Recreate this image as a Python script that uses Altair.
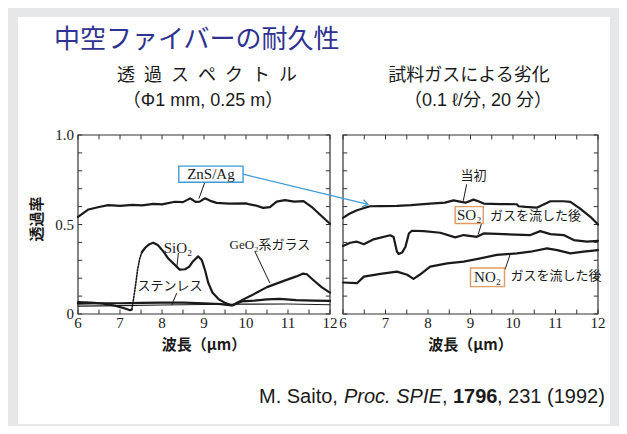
import altair as alt
import pandas as pd

# ---------------- data ----------------
# Left panel: transmission spectra (wavelength um, transmittance)
ZNS_X = [6.0, 6.25, 6.5, 6.72, 7.0, 7.3, 7.52, 7.8, 8.0, 8.31, 8.5, 8.67, 8.8, 8.9, 9.02, 9.15, 9.3, 9.6,
         10.0, 10.09, 10.25, 10.41, 10.57, 10.73, 10.93, 11.15, 11.37, 11.56, 11.76, 11.9, 12.0]
ZNS_Y = [0.543, 0.584, 0.598, 0.608, 0.604, 0.61, 0.607, 0.615, 0.612, 0.627, 0.625, 0.646, 0.626, 0.628,
         0.646, 0.632, 0.621, 0.617, 0.618, 0.612, 0.605, 0.593, 0.597, 0.628, 0.636, 0.628, 0.631, 0.599,
         0.556, 0.525, 0.504]

SIO2_A_X = [6.0, 6.3, 6.6, 6.9, 7.1, 7.24, 7.28]
SIO2_A_Y = [0.066, 0.064, 0.058, 0.045, 0.032, 0.021, 0.025]
SIO2_DOT_X = [7.28, 7.32, 7.37, 7.42, 7.47, 7.52]
SIO2_DOT_Y = [0.025, 0.08, 0.16, 0.25, 0.31, 0.345]
SIO2_B_X = [7.52, 7.6, 7.7, 7.79, 7.9, 8.03, 8.15, 8.27, 8.42, 8.55, 8.65, 8.74, 8.86, 8.95, 9.03, 9.1, 9.2,
            9.35, 9.5, 9.66, 9.75, 9.9, 10.2, 10.5, 10.8, 11.2, 11.6, 12.0]
SIO2_B_Y = [0.345, 0.37, 0.39, 0.398, 0.385, 0.35, 0.31, 0.283, 0.248, 0.25, 0.265, 0.295, 0.322, 0.30, 0.24,
            0.175, 0.12, 0.082, 0.062, 0.048, 0.056, 0.07, 0.075, 0.082, 0.085, 0.078, 0.075, 0.073]

GEO2_X = [6.0, 6.5, 7.0, 7.5, 8.0, 8.5, 9.0, 9.4, 9.6, 9.7, 9.8, 10.1, 10.5, 10.9, 11.2, 11.36, 11.45, 11.6,
          11.8, 11.96, 12.0]
GEO2_Y = [0.058, 0.06, 0.06, 0.062, 0.063, 0.063, 0.06, 0.055, 0.05, 0.05, 0.065, 0.1, 0.15, 0.185, 0.21,
          0.226, 0.222, 0.19, 0.15, 0.125, 0.12]

STEEL_X = [6.0, 7.0, 8.0, 9.0, 10.0, 11.0, 12.0]
STEEL_Y = [0.044, 0.047, 0.05, 0.053, 0.055, 0.056, 0.052]

# Right panel: degradation by sample gas
INIT_X = [6.0, 6.15, 6.33, 6.5, 6.64, 6.9, 7.27, 7.6, 8.05, 8.4, 8.6, 8.75, 8.88, 9.07, 9.2, 9.31, 9.7,
          10.09, 10.13, 10.3, 10.56, 10.72, 10.88, 11.19, 11.35, 11.58, 11.82, 12.0]
INIT_Y = [0.537, 0.56, 0.58, 0.592, 0.602, 0.603, 0.604, 0.608, 0.617, 0.622, 0.635, 0.628, 0.622, 0.639,
          0.628, 0.617, 0.614, 0.613, 0.602, 0.598, 0.594, 0.612, 0.63, 0.63, 0.626, 0.589, 0.543, 0.50]

SO2_X = [6.0, 6.17, 6.33, 6.49, 6.72, 7.11, 7.19, 7.27, 7.31, 7.39, 7.47, 7.55, 7.62, 7.9, 8.29, 8.64, 8.84,
         9.15, 9.31, 9.78, 10.41, 10.64, 10.88, 11.19, 11.43, 11.74, 12.0]
SO2_Y = [0.38, 0.398, 0.404, 0.39, 0.417, 0.44, 0.43, 0.348, 0.335, 0.343, 0.376, 0.45, 0.465, 0.463, 0.454,
         0.428, 0.441, 0.431, 0.45, 0.446, 0.441, 0.463, 0.446, 0.441, 0.413, 0.404, 0.409]

NO2_X = [6.0, 6.33, 6.49, 6.88, 7.27, 7.51, 7.66, 7.82, 8.05, 8.45, 8.84, 9.23, 9.62, 10.09, 10.41, 10.8,
         11.04, 11.35, 11.66, 12.0]
NO2_Y = [0.176, 0.172, 0.209, 0.224, 0.237, 0.219, 0.196, 0.222, 0.265, 0.283, 0.293, 0.311, 0.33, 0.339,
         0.348, 0.367, 0.357, 0.339, 0.348, 0.357]

# axes
X_DOMAIN = [6, 12]
Y_DOMAIN = [0, 1]
X_TICKS = [6, 6.5, 7, 7.5, 8, 8.5, 9, 9.5, 10, 10.5, 11, 11.5, 12]
X_LABELS = [6, 7, 8, 9, 10, 11, 12]
Y_TICKS = [0, 0.1, 0.2, 0.3, 0.4, 0.5, 0.6, 0.7, 0.8, 0.9, 1.0]
Y_LABEL_VALUES = [0, 0.5, 1.0]
Y_LABEL_TEXT = ["0", "0.5", "1.0"]

# texts
TITLE = "中空ファイバーの耐久性"
SUB_L1 = "透\u2002過\u2002ス\u2002ペ\u2002ク\u2002ト\u2002ル"
SUB_L2 = "（Φ1 mm, 0.25 m）"
SUB_R1 = "試料ガスによる劣化"
SUB_R2 = "（0.1 ℓ/分, 20 分）"
X_TITLE = "波長（μm）"
Y_TITLE = "透過率"
CITE = ["M. Saito,", "Proc. SPIE", ",", "1796", ", 231 (1992)"]

# ---------------- styles ----------------
INK = "#1a1a1a"
BLUE = "#3f9ad6"
ORANGE = "#e39a60"
NAVY = "#2f3290"
SERIF = "Liberation Serif, DejaVu Serif, Noto Sans CJK JP"
JP = "Noto Sans CJK JP"
SANS = "Liberation Sans, Arial, Noto Sans CJK JP"

XL = alt.Scale(domain=X_DOMAIN, range=[70, 322])
XR = alt.Scale(domain=X_DOMAIN, range=[335, 590])
YS = alt.Scale(domain=Y_DOMAIN, range=[306, 127])


def enc_xy(X, xf="x", yf="y"):
    return dict(x=alt.X(f"{xf}:Q", scale=X, axis=None), y=alt.Y(f"{yf}:Q", scale=YS, axis=None))


def curve(xs, ys, X, width=2.2, dash=None):
    kw = dict(color=INK, strokeWidth=width, strokeJoin="round", strokeCap="round")
    if dash:
        kw["strokeDash"] = dash
    return alt.Chart(pd.DataFrame({"x": xs, "y": ys})).mark_line(**kw).encode(**enc_xy(X))


def rules(x1, y1, x2, y2, X, color=INK, width=1.0):
    df = pd.DataFrame({"x": x1, "y": y1, "x2": x2, "y2": y2})
    return alt.Chart(df).mark_rule(color=color, strokeWidth=width).encode(
        **enc_xy(X), x2="x2:Q", y2="y2:Q")


def texts(xs, ys, ts, X, size=14, font=SERIF, align="center", **kw):
    df = pd.DataFrame({"x": xs, "y": ys, "t": ts})
    return alt.Chart(df).mark_text(fontSize=size, font=font, align=align, baseline="middle",
                                   color=INK, **kw).encode(**enc_xy(X), text="t:N")


def box(x1, x2, y1, y2, X, color):
    df = pd.DataFrame({"x": [x1], "x2": [x2], "y": [y1], "y2": [y2]})
    return alt.Chart(df).mark_rect(fill="white", stroke=color, strokeWidth=1.4).encode(
        **enc_xy(X), x2="x2:Q", y2="y2:Q")


def frame(X):
    layers = []
    df = pd.DataFrame({"x": [X_DOMAIN[0]], "x2": [X_DOMAIN[1]], "y": [Y_DOMAIN[0]], "y2": [Y_DOMAIN[1]]})
    layers.append(alt.Chart(df).mark_rect(fillOpacity=0, stroke="#333", strokeWidth=1.2).encode(
        **enc_xy(X), x2="x2:Q", y2="y2:Q"))
    n = len(X_TICKS)
    layers.append(rules(X_TICKS, [0] * n, X_TICKS, [0.025] * n, X, color="#333"))
    layers.append(rules(X_TICKS, [1] * n, X_TICKS, [0.975] * n, X, color="#333"))
    m = len(Y_TICKS)
    layers.append(rules([6] * m, Y_TICKS, [6.1] * m, Y_TICKS, X, color="#333"))
    layers.append(rules([12] * m, Y_TICKS, [11.9] * m, Y_TICKS, X, color="#333"))
    k = len(X_LABELS)
    layers.append(texts(X_LABELS, [-0.048] * k, [str(v) for v in X_LABELS], X, size=15))
    return layers


def pix_text(x, y, t, size, font=JP, color=INK, align="center", **kw):
    return alt.Chart(pd.DataFrame({"t": [t]})).mark_text(
        fontSize=size, font=font, color=color, align=align, baseline="middle", **kw
    ).encode(x=alt.value(x), y=alt.value(y), text="t:N")


layers = []

# slide card
layers.append(alt.Chart(pd.DataFrame({"t": [0]})).mark_rect(fill="white").encode(
    x=alt.value(10), x2=alt.value(602), y=alt.value(9), y2=alt.value(416)))

# headings
layers.append(pix_text(46, 32, TITLE, 26, color=NAVY, align="left"))
layers.append(pix_text(199, 68, SUB_L1, 18))
layers.append(pix_text(195, 93, SUB_L2, 18, font=SANS))
layers.append(pix_text(461, 68, SUB_R1, 18))
layers.append(pix_text(470, 93, SUB_R2, 18, font=SANS))

# frames, ticks, labels
layers += frame(XL)
layers += frame(XR)
layers.append(texts([6] * 3, Y_LABEL_VALUES, Y_LABEL_TEXT, XL, size=15, align="right", dx=-4))
layers.append(texts([9.0], [-0.172], [X_TITLE], XL, size=15, font=JP, fontWeight="bold"))
layers.append(texts([9.0], [-0.172], [X_TITLE], XR, size=15, font=JP, fontWeight="bold"))
layers.append(pix_text(29, 211, Y_TITLE, 15, angle=270, fontWeight="bold"))

# left panel curves
layers.append(curve(STEEL_X, STEEL_Y, XL, width=1.1))
layers.append(curve(GEO2_X, GEO2_Y, XL))
layers.append(curve(SIO2_A_X, SIO2_A_Y, XL))
layers.append(curve(SIO2_DOT_X, SIO2_DOT_Y, XL, width=1.6, dash=[1.5, 1.5]))
layers.append(curve(SIO2_B_X, SIO2_B_Y, XL))
layers.append(curve(ZNS_X, ZNS_Y, XL))

# left annotations
layers.append(rules([9.02, 8.39, 10.21, 8.35], [0.736, 0.341, 0.35, 0.116],
                    [8.88, 8.35, 10.57, 8.23], [0.645, 0.257, 0.172, 0.05], XL))
layers.append(box(8.40, 9.93, 0.736, 0.826, XL, BLUE))
layers.append(texts([9.165], [0.781], ["ZnS/Ag"], XL, size=15))
layers.append(texts([8.38], [0.371], ["SiO₂"], XL, size=15))
layers.append(texts([10.57], [0.388], ["GeO₂系ガラス"], XL, size=13))
layers.append(texts([8.19], [0.159], ["ステンレス"], XL, size=13, font=JP))

# blue arrow from ZnS/Ag box into the right panel
layers.append(rules([9.93], [0.781], [12.905], [0.612], XL, color=BLUE, width=1.3))
layers.append(alt.Chart(pd.DataFrame({"x": [12.905], "y": [0.612]})).mark_point(
    shape="M -1 -0.7 L 0 0 L -1 0.7", filled=False, stroke=BLUE, strokeWidth=1.3, size=110,
    angle=13, opacity=1).encode(**enc_xy(XL)))

# right panel curves
layers.append(curve(NO2_X, NO2_Y, XR))
layers.append(curve(SO2_X, SO2_Y, XR))
layers.append(curve(INIT_X, INIT_Y, XR))

# right annotations
layers.append(rules([8.91, 9.26, 9.81], [0.725, 0.506, 0.247],
                    [8.83, 9.18, 9.93], [0.632, 0.444, 0.331], XR))
layers.append(texts([9.07], [0.771], ["当初"], XR, size=13, font=JP))
layers.append(box(8.64, 9.30, 0.506, 0.60, XR, ORANGE))
layers.append(texts([8.97], [0.553], ["SO₂"], XR, size=15))
layers.append(texts([9.46], [0.549], ["ガスを流した後"], XR, size=13, font=JP, align="left"))
layers.append(box(9.0, 9.8, 0.153, 0.257, XR, ORANGE))
layers.append(texts([9.4], [0.205], ["NO₂"], XR, size=15))
layers.append(texts([9.94], [0.21], ["ガスを流した後"], XR, size=13, font=JP, align="left"))

# citation (mixed styles)
layers.append(pix_text(251, 389, CITE[0], 20, font=SANS, align="left"))
layers.append(pix_text(336, 389, CITE[1], 20, font=SANS, align="left", fontStyle="italic"))
layers.append(pix_text(434, 389, CITE[2], 20, font=SANS, align="left"))
layers.append(pix_text(445, 389, CITE[3], 20, font=SANS, align="left", fontWeight="bold"))
layers.append(pix_text(489, 389, CITE[4], 20, font=SANS, align="left"))

chart = alt.layer(*layers).resolve_scale(x="independent", y="independent").properties(
    width=611, height=418, padding=0, autosize=alt.AutoSizeParams(type="none"),
    background="#e6e7e9",
).configure_view(stroke=None)

chart.save("out.html", embed_options={"renderer": "svg", "actions": False})
